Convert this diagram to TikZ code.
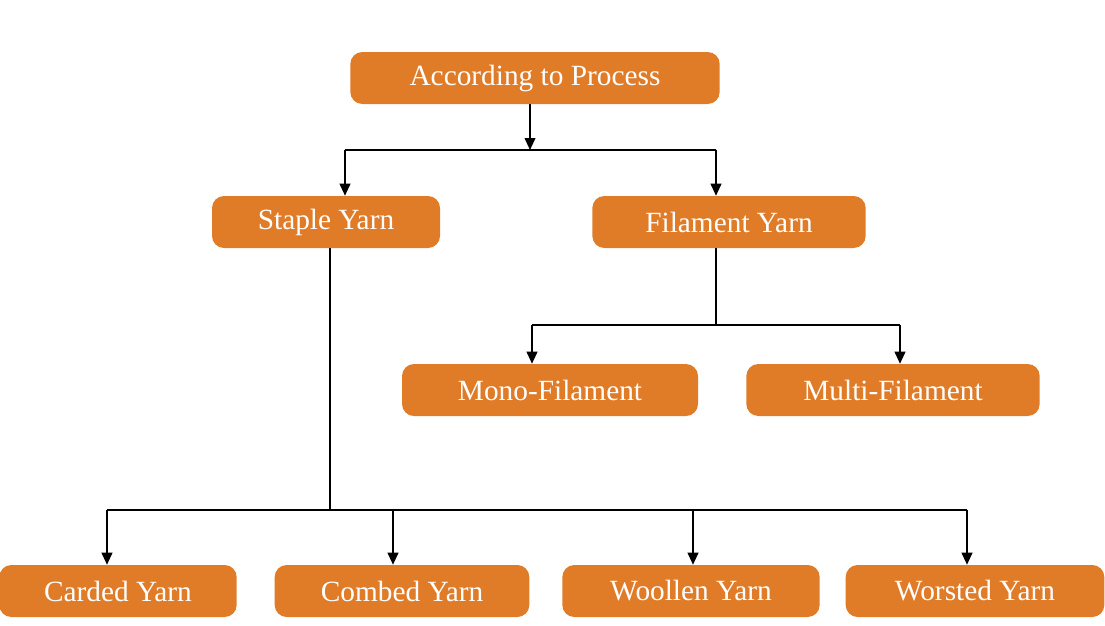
\documentclass[tikz,border=0pt]{standalone}
\usepackage{fontspec}
\setmainfont{Liberation Serif}
\usetikzlibrary{arrows.meta}
\definecolor{org}{HTML}{E07B28}
\begin{document}
\begin{tikzpicture}[x=0.75pt,y=-0.75pt,
  box/.style={fill=org,rounded corners=9pt,text=white,font=\fontsize{22}{26}\selectfont,inner sep=0pt,minimum height=39pt},
  ln/.style={line width=1.4pt,black},
  ar/.style={ln,-{Triangle[length=9pt,width=8pt]}}]
\useasboundingbox (0,0) rectangle (1105,625);
\node[box,minimum width=277pt] (top) at (535,78) {According to Process};
\node[box,minimum width=171pt] (st) at (326,222) {Staple Yarn};
\node[box,minimum width=205pt] (fi) at (729,222) {Filament Yarn};
\node[box,minimum width=222pt] (mo) at (550,390) {Mono-Filament};
\node[box,minimum width=220pt] (mu) at (893,390) {Multi-Filament};
\node[box,minimum width=178pt] (ca) at (118,591) {Carded Yarn};
\node[box,minimum width=191pt] (co) at (402,591) {Combed Yarn};
\node[box,minimum width=193pt] (wo) at (691,591) {Woollen Yarn};
\node[box,minimum width=194pt] (ws) at (975,591) {Worsted Yarn};
\coordinate (j1) at (530,150);
\coordinate (j1l) at (345,150);
\coordinate (j1r) at (716,150);
\draw[ar] (top.south -| j1) -- (j1);
\draw[ln] (j1l) -- (j1r);
\draw[ar] (j1l) -- (st.north -| j1l);
\draw[ar] (j1r) -- (fi.north -| j1r);
\coordinate (j2) at (716,325);
\coordinate (j2l) at (532,325);
\coordinate (j2r) at (900,325);
\draw[ln] (fi.south -| j2) -- (j2);
\draw[ln] (j2l) -- (j2r);
\draw[ar] (j2l) -- (mo.north -| j2l);
\draw[ar] (j2r) -- (mu.north -| j2r);
\coordinate (j3) at (330,510);
\coordinate (ja) at (107,510);
\coordinate (jb) at (393,510);
\coordinate (jc) at (693,510);
\coordinate (jd) at (967,510);
\draw[ln] (st.south -| j3) -- (j3);
\draw[ln] (ja) -- (jd);
\draw[ar] (ja) -- (ca.north -| ja);
\draw[ar] (jb) -- (co.north -| jb);
\draw[ar] (jc) -- (wo.north -| jc);
\draw[ar] (jd) -- (ws.north -| jd);
\end{tikzpicture}
\end{document}
